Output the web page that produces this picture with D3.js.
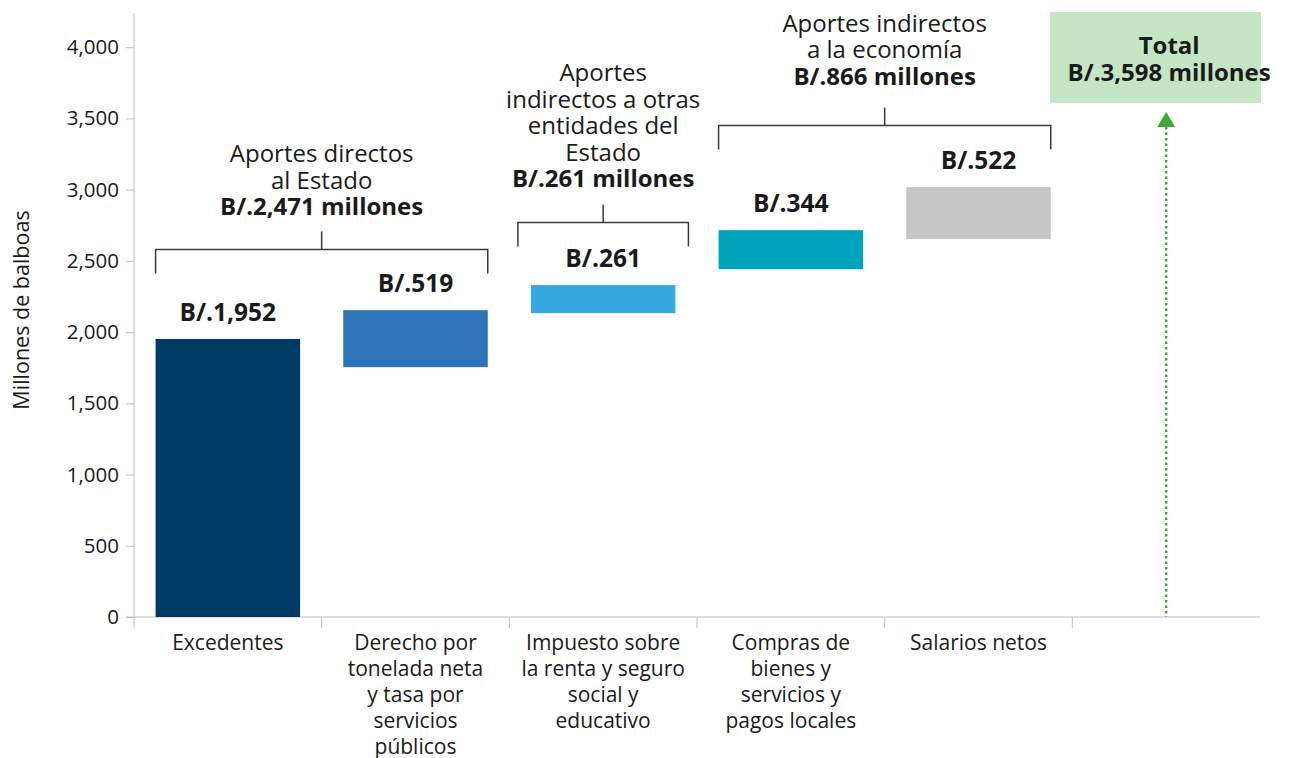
<!DOCTYPE html>
<html>
<head>
<meta charset="utf-8">
<script src="https://cdn.jsdelivr.net/npm/d3@7"></script>
<style>
  body { margin: 0; background: #fff; }
  text { font-family: "Open Sans", sans-serif; fill: #1a1a1a; }
</style>
</head>
<body>
<div id="chart"></div>
<script>
const categories = [
  ["Excedentes"],
  ["Derecho por", "tonelada neta", "y tasa por", "servicios", "públicos"],
  ["Impuesto sobre", "la renta y seguro", "social y", "educativo"],
  ["Compras de", "bienes y", "servicios y", "pagos locales"],
  ["Salarios netos"]
];
const barLabels = ["B/.1,952", "B/.519", "B/.261", "B/.344", "B/.522"];
// floating bars as drawn (start, end), millones de balboas
const barStart = [0, 1754, 2133, 2442, 2653];
const barEnd = [1952, 2154, 2330, 2716, 3018];
const barColors = ["#003b68", "#2e74b8", "#36a9e0", "#00a4bf", "#c6c6c6"];

const groupLines = [
  ["Aportes directos", "al Estado"],
  ["Aportes", "indirectos a otras", "entidades del", "Estado"],
  ["Aportes indirectos", "a la economía"]
];
const groupTotals = ["B/.2,471 millones", "B/.261 millones", "B/.866 millones"];
const groupFirst = [0, 2, 3];
const groupLast = [1, 2, 4];
const groupLevel = [2580, 2770, 3450];

const totalLines = ["Total", "B/.3,598 millones"];
const yTicks = [0, 500, 1000, 1500, 2000, 2500, 3000, 3500, 4000];

const width = 1290, height = 758;
const svg = d3.select("#chart").append("svg")
  .attr("width", width).attr("height", height);

const slots = d3.range(categories.length + 1);
const x = d3.scaleBand().domain(slots).range([134, 1260]);
const barW = x.bandwidth() * 0.77;
const barX = i => x(i) + (x.bandwidth() - barW) / 2;

const y = d3.scaleLinear().domain([0, 4240]).range([617, 13]);

// y axis
const yAxis = d3.axisLeft(y).tickValues(yTicks).tickSize(8).tickPadding(7)
  .tickFormat(d3.format(","));
const gy = svg.append("g").attr("transform", "translate(134,0)").call(yAxis);
gy.select(".domain").remove();
gy.selectAll(".tick line").attr("stroke", "#bfbfbf");
gy.selectAll(".tick text").style("font-size", "20.5px").attr("fill", "#222");
svg.append("line").attr("x1", 134).attr("x2", 134)
  .attr("y1", y(4240)).attr("y2", y(0) + 11).attr("stroke", "#bfbfbf");

// x axis
svg.append("line").attr("x1", 126).attr("x2", 1260)
  .attr("y1", y(0)).attr("y2", y(0)).attr("stroke", "#bfbfbf");
svg.selectAll(".xtick").data(slots.slice(1)).join("line")
  .attr("x1", d => x(d)).attr("x2", d => x(d))
  .attr("y1", y(0)).attr("y2", y(0) + 11).attr("stroke", "#bfbfbf");

categories.forEach((lines, i) => {
  const t = svg.append("text").attr("text-anchor", "middle")
    .attr("x", x(i) + x.bandwidth() / 2).attr("y", 650)
    .style("font-size", "21px");
  lines.forEach((l, j) => t.append("tspan")
    .attr("x", x(i) + x.bandwidth() / 2).attr("dy", j ? 26 : 0).text(l));
});

svg.append("text")
  .attr("transform", "translate(29,310) rotate(-90)")
  .attr("text-anchor", "middle").style("font-size", "21.5px")
  .text("Millones de balboas");

// bars
svg.selectAll(".bar").data(barEnd).join("rect")
  .attr("x", (d, i) => barX(i)).attr("width", barW)
  .attr("y", d => y(d))
  .attr("height", (d, i) => y(barStart[i]) - y(d))
  .attr("fill", (d, i) => barColors[i]);

svg.selectAll(".blab").data(barLabels).join("text")
  .attr("x", (d, i) => x(i) + x.bandwidth() / 2)
  .attr("y", (d, i) => y(barEnd[i]) - 18)
  .attr("text-anchor", "middle")
  .style("font-size", "24.5px").style("font-weight", "bold")
  .text(d => d);

// group brackets
const textGap = [16, 17, 23];
groupLines.forEach((lines, g) => {
  let x0 = barX(groupFirst[g]), x1 = barX(groupLast[g]) + barW;
  if (groupFirst[g] === groupLast[g]) { x0 -= 13; x1 += 13; }
  const yl = y(groupLevel[g]);
  const cx = (x0 + x1) / 2;
  svg.append("path")
    .attr("d", `M${x0},${yl + 24}V${yl}H${x1}V${yl + 24}M${cx},${yl}V${yl - 18}`)
    .attr("fill", "none").attr("stroke", "#3a3a3a").attr("stroke-width", 1.5);
  const all = lines.concat([groupTotals[g]]);
  const base = yl - 18 - textGap[g];
  const t = svg.append("text").attr("text-anchor", "middle")
    .style("font-size", "24px");
  all.forEach((l, j) => t.append("tspan")
    .attr("x", cx).attr("y", base - (all.length - 1 - j) * 26.5)
    .style("font-weight", j === all.length - 1 ? "bold" : "normal")
    .text(l));
});

// total box and arrow
const tx = x(categories.length) + x.bandwidth() / 2;
svg.append("rect").attr("x", 1050).attr("y", 12)
  .attr("width", 211).attr("height", 91).attr("fill", "#c5e6c5");
totalLines.forEach((l, j) => svg.append("text")
  .attr("x", tx + 3).attr("y", 54 + j * 27).attr("text-anchor", "middle")
  .style("font-size", "24px").style("font-weight", "bold").text(l));

svg.append("line").attr("x1", tx).attr("x2", tx)
  .attr("y1", 127).attr("y2", y(0))
  .attr("stroke", "#3aaa35").attr("stroke-width", 2.5)
  .attr("stroke-dasharray", "2.5 3");
svg.append("path")
  .attr("d", `M${tx - 9},${127}L${tx},${112}L${tx + 9},${127}Z`)
  .attr("fill", "#3aaa35");
</script>
</body>
</html>
